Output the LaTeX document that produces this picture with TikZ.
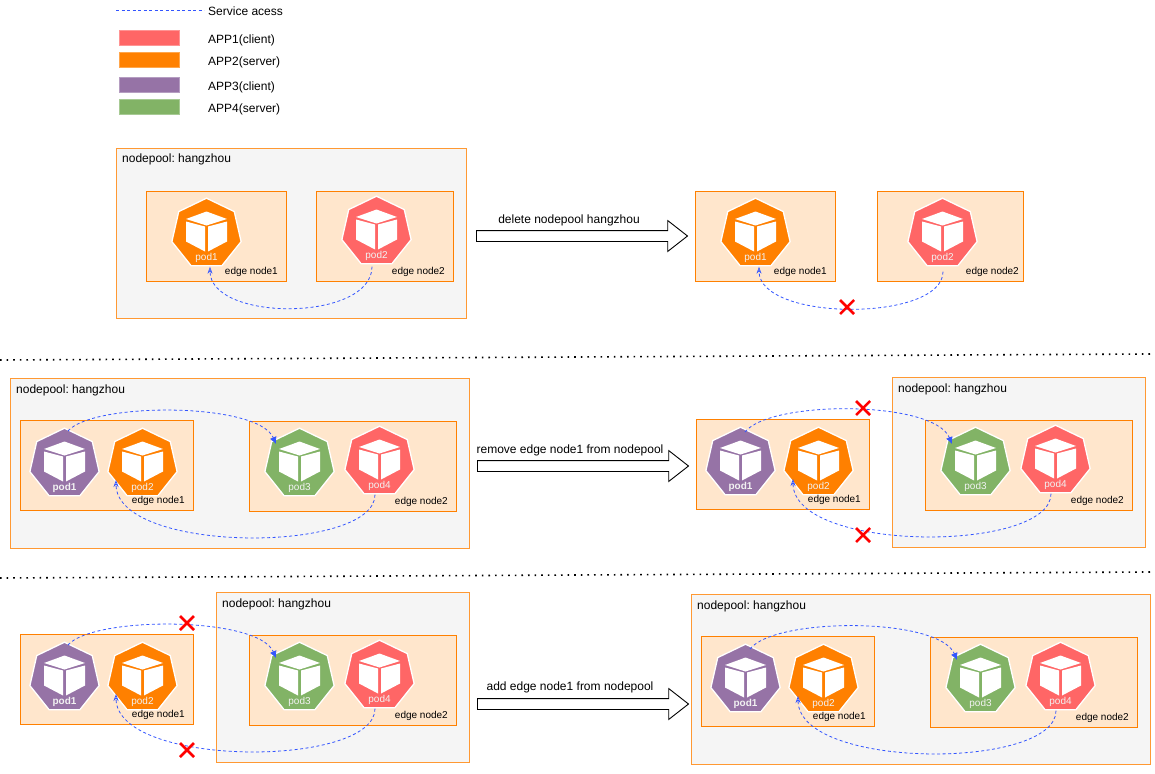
\documentclass[tikz,border=0pt]{standalone}
\usepackage{fontspec}
\setmainfont{Liberation Sans}
\usetikzlibrary{arrows.meta,shapes.geometric,shapes.misc,shapes.arrows}
\definecolor{appred}{HTML}{FF6666}
\definecolor{apporange}{HTML}{FF8000}
\definecolor{apppurple}{HTML}{9673A6}
\definecolor{appgreen}{HTML}{82B366}
\definecolor{poolfill}{HTML}{F5F5F5}
\definecolor{poolline}{HTML}{FF9933}
\definecolor{edgefill}{HTML}{FFE6CC}
\definecolor{svcblue}{HTML}{3355FF}
\tikzset{
	poolbox/.style={draw=poolline,fill=poolfill,line width=.8pt},
	edgebox/.style={draw=apporange,fill=edgefill,line width=.8pt},
	legendbox/.style={line width=.8pt},
	txt/.style={anchor=west,inner sep=0,yshift=-1pt,font=\fontsize{12}{14}\selectfont},
	edgetxt/.style={anchor=east,inner sep=0,yshift=-1pt,font=\fontsize{10}{12}\selectfont},
	arrowtxt/.style={inner sep=0,yshift=-1pt,font=\fontsize{12}{14}\selectfont},
	podshape/.style={regular polygon,regular polygon sides=7,minimum size=71pt,inner sep=0,outer sep=0,draw=white,line width=1.3pt},
	podtxt/.style={inner sep=0,yshift=-1pt,text=white!95!black,font=\fontsize{10}{12}\selectfont},
	svc/.style={draw=svcblue,line width=.8pt,dash pattern=on 3pt off 2.5pt},
	svcopen/.style={svc,-{Stealth[open,length=7pt,width=5pt,line width=.7pt,fill=none]}},
	svcfill/.style={svc,-{Latex[length=7pt,width=7pt,fill=svcblue]}},
	blockarrow/.style={single arrow,draw=black,fill=white,line width=.9pt,minimum height=211pt,inner xsep=0,inner ysep=5pt,single arrow head extend=10pt,single arrow tip angle=76,text depth=0pt,text height=0pt,text width=0pt},
	crossmark/.style={cross out,draw=red,line width=2.5pt,minimum size=14pt,inner sep=0,outer sep=0},
	sepline/.style={line width=1.6pt,dash pattern=on 1.6pt off 5pt},
}
% name, x, y, colour, label
\newcommand{\podnode}[5]{
	\node[podshape,fill=#4] (#1) at (#2,#3+1.7) {};
	\begin{scope}[shift={(#2,#3)}]
		\fill[white] (0,-20.5) -- (20.5,-13) -- (0,-6.5) -- (-20.5,-13) -- cycle;
		\fill[white] (-20.5,-10.5) -- (-1.5,-5.5) -- (-1.5,19.5) -- (-20.5,9.5) -- cycle;
		\fill[white] (20.5,-10.5) -- (1.5,-5.5) -- (1.5,19.5) -- (20.5,9.5) -- cycle;
	\end{scope}
	\node[podtxt] (#1txt) at (#2,#3+24.5) {#5};
}
\begin{document}
\frenchspacing
\begin{tikzpicture}[x=1pt,y=-1pt]
	\useasboundingbox (0,0) rectangle (1155,773);

	% legend
	\coordinate (keyl) at (116,10.5);
	\coordinate (keyr) at (204,10.5);
	\draw[svc] (keyl) -- (keyr);
	\node[txt] (keysvc) at (208,10) {Service acess};
	\draw[legendbox,fill=appred,draw=appred!70!white] (119.5,30.5) rectangle (179.5,45.5);
	\node[txt] (keyapp1) at (208,39) {APP1(client)};
	\draw[legendbox,fill=apporange,draw=apporange!70!white] (119.5,52.5) rectangle (179.5,67.5);
	\node[txt] (keyapp2) at (208,61) {APP2(server)};
	\draw[legendbox,fill=apppurple,draw=apppurple!70!white] (119.5,77.5) rectangle (179.5,92.5);
	\node[txt] (keyapp3) at (208,86) {APP3(client)};
	\draw[legendbox,fill=appgreen,draw=appgreen!70!white] (119.5,99.5) rectangle (179.5,114.5);
	\node[txt] (keyapp4) at (208,108) {APP4(server)};

	% first row, left
	\draw[poolbox] (116.5,148.5) rectangle (466.5,318.5);
	\node[txt] (apool) at (122,158.5) {nodepool: hangzhou};
	\draw[edgebox] (146.5,191.5) rectangle (286.5,281.5);
	\draw[edgebox] (316.5,191.5) rectangle (453.5,281.5);
	\podnode{apod1}{206.5}{232}{apporange}{pod1}
	\podnode{apod2}{376.5}{230}{appred}{pod2}
	\node[edgetxt] (anode1) at (278,271) {edge node1};
	\node[edgetxt] (anode2) at (445,271) {edge node2};
	\draw[svcopen] ([shift={(-4.5,3)}]apod2.south) .. controls (372,322) and (210,322) .. ([shift={(3.5,1)}]apod1.south);

	% first row, right
	\node[blockarrow] (aarrow) at (578.5,236) {};
	\node[arrowtxt] (aarrowtxt) at (569,219) {delete nodepool hangzhou};
	\draw[edgebox] (695.5,191.5) rectangle (835.5,281.5);
	\draw[edgebox] (877.5,191.5) rectangle (1023.5,281.5);
	\podnode{bpod1}{755.5}{232}{apporange}{pod1}
	\podnode{bpod2}{942.5}{232}{appred}{pod2}
	\node[edgetxt] (bnode1) at (827,271) {edge node1};
	\node[edgetxt] (bnode2) at (1019,271) {edge node2};
	\draw[svcopen] ([shift={(.5,6)}]bpod2.south) .. controls (943,322) and (759,322) .. ([shift={(3.5,1)}]bpod1.south);
	\node[crossmark] (bcross) at (847,307) {};

	\coordinate (sep1l) at (0,360);
	\coordinate (sep1r) at (1150,354);
	\draw[sepline] (sep1l) -- (sep1r);

	% second row, left
	\draw[poolbox] (10.5,378.5) rectangle (469.5,548.5);
	\node[txt] (cpool) at (16,389) {nodepool: hangzhou};
	\draw[edgebox] (20.5,420.5) rectangle (193.5,510.5);
	\draw[edgebox] (249.5,421.5) rectangle (456.5,511.5);
	\podnode{cpod1}{64.5}{462}{apppurple}{\textbf{pod1}}
	\podnode{cpod2}{142.5}{462}{apporange}{pod2}
	\podnode{cpod3}{299.5}{462}{appgreen}{pod3}
	\podnode{cpod4}{379.5}{460}{appred}{pod4}
	\node[edgetxt] (cnode1) at (185,500) {edge node1};
	\node[edgetxt] (cnode2) at (448,501) {edge node2};
	\draw[svcfill] ([shift={(3.5,2.8)}]cpod1.north) .. controls (93,402) and (258,402) .. ([shift={(-23.5,-19.7)}]cpod3.center);
	\draw[svcopen] ([shift={(-4.5,1)}]cpod4.south) .. controls (375,554) and (116,554) .. ([shift={(-26.5,16.3)}]cpod2.center);

	% second row, right
	\node[blockarrow] (carrow) at (579.5,466) {};
	\node[arrowtxt] (carrowtxt) at (570,449) {remove edge node1 from nodepool};
	\draw[poolbox] (892.5,377.5) rectangle (1145.5,547.5);
	\node[txt] (dpool) at (898,388) {nodepool: hangzhou};
	\draw[edgebox] (696.5,419.5) rectangle (869.5,509.5);
	\draw[edgebox] (925.5,420.5) rectangle (1132.5,510.5);
	\podnode{dpod1}{740.5}{461}{apppurple}{\textbf{pod1}}
	\podnode{dpod2}{818.5}{461}{apporange}{pod2}
	\podnode{dpod3}{975.5}{461}{appgreen}{pod3}
	\podnode{dpod4}{1055.5}{459}{appred}{pod4}
	\node[edgetxt] (dnode1) at (861,499) {edge node1};
	\node[edgetxt] (dnode2) at (1124,500) {edge node2};
	\draw[svcfill] ([shift={(4.5,4.8)}]dpod1.north) .. controls (770,400) and (934,400) .. ([shift={(-23.5,-18.7)}]dpod3.center);
	\draw[svcopen] ([shift={(-4.5,1)}]dpod4.south) .. controls (1051,553) and (793,553) .. ([shift={(-25.5,16.3)}]dpod2.center);
	\node[crossmark] (dcrossa) at (863,408) {};
	\node[crossmark] (dcrossb) at (863,535) {};

	\coordinate (sep2l) at (0,578);
	\coordinate (sep2r) at (1150,572);
	\draw[sepline] (sep2l) -- (sep2r);

	% third row, left
	\draw[poolbox] (216.5,592.5) rectangle (469.5,762.5);
	\node[txt] (epool) at (222,603) {nodepool: hangzhou};
	\draw[edgebox] (20.5,634.5) rectangle (193.5,724.5);
	\draw[edgebox] (249.5,635.5) rectangle (456.5,725.5);
	\podnode{epod1}{64.5}{676}{apppurple}{\textbf{pod1}}
	\podnode{epod2}{142.5}{676}{apporange}{pod2}
	\podnode{epod3}{299.5}{676}{appgreen}{pod3}
	\podnode{epod4}{379.5}{674}{appred}{pod4}
	\node[edgetxt] (enode1) at (185,714) {edge node1};
	\node[edgetxt] (enode2) at (448,715) {edge node2};
	\draw[svcfill] ([shift={(3.5,2.8)}]epod1.north) .. controls (93,616) and (258,616) .. ([shift={(-23.5,-19.7)}]epod3.center);
	\draw[svcopen] ([shift={(-4.5,1)}]epod4.south) .. controls (375,768) and (116,768) .. ([shift={(-26.5,16.3)}]epod2.center);
	\node[crossmark] (ecrossa) at (187,623) {};
	\node[crossmark] (ecrossb) at (187,750) {};

	% third row, right
	\node[blockarrow] (earrow) at (579.5,704) {};
	\node[arrowtxt] (earrowtxt) at (570,686) {add edge node1 from nodepool};
	\draw[poolbox] (691.5,594.5) rectangle (1150.5,764.5);
	\node[txt] (fpool) at (697,605) {nodepool: hangzhou};
	\draw[edgebox] (701.5,636.5) rectangle (874.5,726.5);
	\draw[edgebox] (930.5,637.5) rectangle (1137.5,727.5);
	\podnode{fpod1}{745.5}{678}{apppurple}{\textbf{pod1}}
	\podnode{fpod2}{823.5}{678}{apporange}{pod2}
	\podnode{fpod3}{980.5}{678}{appgreen}{pod3}
	\podnode{fpod4}{1060.5}{676}{appred}{pod4}
	\node[edgetxt] (fnode1) at (866,716) {edge node1};
	\node[edgetxt] (fnode2) at (1129,717) {edge node2};
	\draw[svcfill] ([shift={(4.5,4.8)}]fpod1.north) .. controls (775,617) and (939,617) .. ([shift={(-23.5,-19.7)}]fpod3.center);
	\draw[svcopen] ([shift={(-4.5,1)}]fpod4.south) .. controls (1056,770) and (798,770) .. ([shift={(-25.5,16.3)}]fpod2.center);
\end{tikzpicture}
\end{document}
